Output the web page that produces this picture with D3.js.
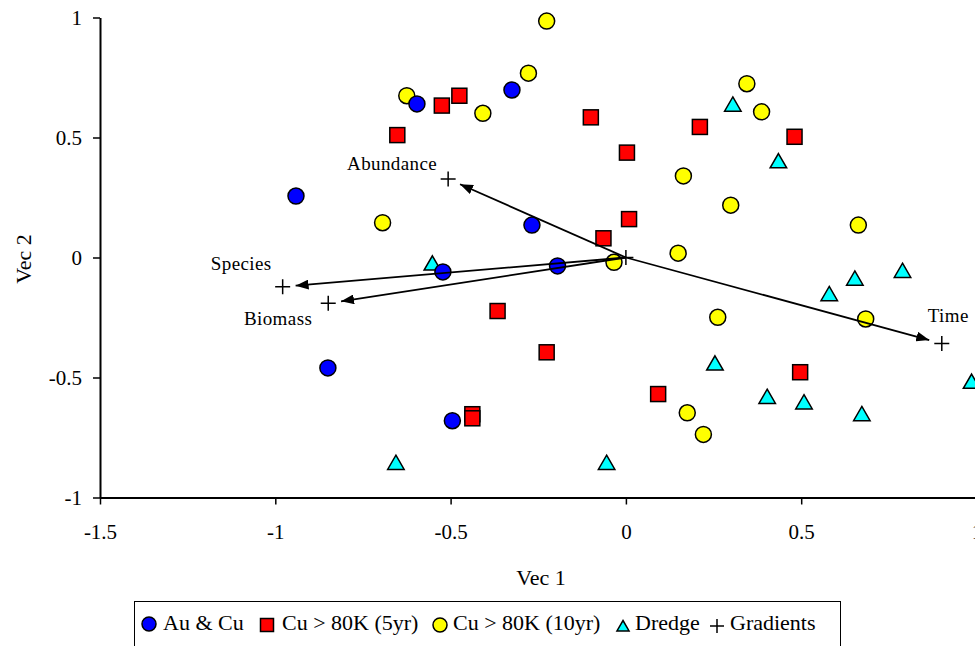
<!DOCTYPE html>
<html>
<head>
<meta charset="utf-8">
<script src="https://cdn.jsdelivr.net/npm/d3@7"></script>
<style>
  body { margin: 0; background: #fff; }
  svg text { font-family: "Liberation Serif", "Times New Roman", serif; fill: #000; }
</style>
</head>
<body>
<div id="chart"></div>
<script>
// Values (Vec 1, Vec 2)
const auCu = [
  [-0.941, 0.256], [-0.596, 0.640], [-0.325, 0.698], [-0.268, 0.135],
  [-0.522, -0.060], [-0.195, -0.035], [-0.850, -0.460], [-0.495, -0.680]
];
const cu5yr = [
  [-0.652, 0.510], [-0.525, 0.633], [-0.475, 0.674], [-0.100, 0.584],
  [0.003, 0.437], [0.211, 0.544], [0.481, 0.503], [0.009, 0.160],
  [-0.064, 0.080], [-0.366, -0.223], [-0.226, -0.395], [-0.438, -0.653],
  [-0.438, -0.670], [0.092, -0.569], [0.497, -0.478]
];
const cu10yr = [
  [-0.226, 0.985], [-0.278, 0.768], [-0.625, 0.674], [-0.408, 0.601],
  [0.345, 0.724], [0.387, 0.607], [0.164, 0.340], [0.299, 0.218],
  [-0.694, 0.145], [0.663, 0.135], [0.149, 0.018], [-0.034, -0.020],
  [0.262, -0.249], [0.684, -0.256], [0.175, -0.647], [0.221, -0.737]
];
const dredge = [
  [0.305, 0.638], [0.435, 0.402], [-0.552, -0.024], [0.789, -0.055],
  [0.653, -0.087], [0.580, -0.152], [0.254, -0.441], [0.403, -0.580],
  [0.508, -0.603], [0.673, -0.652], [0.986, -0.517], [-0.656, -0.855],
  [-0.055, -0.855]
];
const gradientNames = ["Abundance", "Species", "Biomass", "Time"];
const gradientX = [-0.507, -0.979, -0.849, 0.901];
const gradientY = [0.327, -0.122, -0.191, -0.358];
const gradientOrigin = [0, 0];

const legendLabels = ["Au & Cu", "Cu > 80K (5yr)", "Cu > 80K (10yr)", "Dredge", "Gradients"];
const xTicks = [-1.5, -1, -0.5, 0, 0.5, 1];
const yTicks = [-1, -0.5, 0, 0.5, 1];

// Layout
const width = 975, height = 646;
const plot = { left: 100, right: 976.5, top: 17.5, bottom: 497.5 };

const svg = d3.select("#chart").append("svg")
  .attr("width", width)
  .attr("height", height);

const x = d3.scaleLinear().domain([-1.5, 1]).range([plot.left, plot.right]);
const y = d3.scaleLinear().domain([-1, 1]).range([plot.bottom, plot.top]);

// Axes
const yAxis = d3.axisLeft(y).tickValues(yTicks).tickSize(7).tickSizeOuter(0)
  .tickPadding(11).tickFormat(d => String(d));
const xAxis = d3.axisBottom(x).tickValues(xTicks).tickSize(7).tickSizeOuter(0)
  .tickPadding(20).tickFormat(d => String(d));

const gy = svg.append("g")
  .attr("transform", `translate(${plot.left},0)`)
  .call(yAxis);
const gx = svg.append("g")
  .attr("transform", `translate(0,${plot.bottom})`)
  .call(xAxis);

[gx, gy].forEach(g => {
  g.selectAll("path.domain").attr("stroke", "#000").attr("stroke-width", 2);
  g.selectAll(".tick line").attr("stroke", "#000").attr("stroke-width", 1.5);
  g.selectAll(".tick text")
    .style("font-family", '"Liberation Serif", "Times New Roman", serif')
    .style("font-size", "21px")
    .attr("fill", "#000");
});

svg.append("text")
  .attr("x", 541)
  .attr("y", 585)
  .attr("text-anchor", "middle")
  .style("font-size", "22px")
  .text("Vec 1");

svg.append("text")
  .attr("transform", "translate(31,259) rotate(-90)")
  .attr("text-anchor", "middle")
  .style("font-size", "22px")
  .text("Vec 2");

// Marker shapes
const trianglePath = s => `M0,${-s * 0.5}L${s * 0.55},${s * 0.45}L${-s * 0.55},${s * 0.45}Z`;
const plusPath = s => `M${-s / 2},0H${s / 2}M0,${-s / 2}V${s / 2}`;

function drawCircles(data, fill, r) {
  svg.append("g").selectAll("circle").data(data).join("circle")
    .attr("cx", d => x(d[0]))
    .attr("cy", d => y(d[1]))
    .attr("r", r)
    .attr("fill", fill)
    .attr("stroke", "#000")
    .attr("stroke-width", 1.5);
}

// Dredge triangles
svg.append("g").selectAll("path").data(dredge).join("path")
  .attr("transform", d => `translate(${x(d[0])},${y(d[1])})`)
  .attr("d", trianglePath(15))
  .attr("fill", "#00ffff")
  .attr("stroke", "#000")
  .attr("stroke-width", 1.5)
  .attr("stroke-linejoin", "miter");

// Cu > 80K (10yr)
drawCircles(cu10yr, "#ffff00", 8);

// Cu > 80K (5yr)
svg.append("g").selectAll("rect").data(cu5yr).join("rect")
  .attr("x", d => x(d[0]) - 7.5)
  .attr("y", d => y(d[1]) - 7.5)
  .attr("width", 15)
  .attr("height", 15)
  .attr("fill", "#ff0000")
  .attr("stroke", "#000")
  .attr("stroke-width", 1.5);

// Au & Cu
drawCircles(auCu, "#0000ff", 8);

// Gradient vectors
svg.append("defs").append("marker")
  .attr("id", "arrow")
  .attr("markerUnits", "userSpaceOnUse")
  .attr("markerWidth", 13)
  .attr("markerHeight", 10)
  .attr("refX", 13)
  .attr("refY", 5)
  .attr("orient", "auto")
  .append("path")
  .attr("d", "M0,0L13,5L0,10Z")
  .attr("fill", "#000");

const gradients = gradientNames.map((name, i) => ({ name, gx: gradientX[i], gy: gradientY[i] }));
const arrowGap = 13;

svg.append("g").selectAll("line").data(gradients).join("line")
  .each(function(d) {
    const x0 = x(gradientOrigin[0]), y0 = y(gradientOrigin[1]);
    const x1 = x(d.gx), y1 = y(d.gy);
    const len = Math.hypot(x1 - x0, y1 - y0);
    const k = (len - arrowGap) / len;
    d3.select(this)
      .attr("x1", x0).attr("y1", y0)
      .attr("x2", x0 + (x1 - x0) * k)
      .attr("y2", y0 + (y1 - y0) * k);
  })
  .attr("stroke", "#000")
  .attr("stroke-width", 1.8)
  .attr("marker-end", "url(#arrow)");

const plusPoints = [gradientOrigin].concat(gradients.map(d => [d.gx, d.gy]));
svg.append("g").selectAll("path").data(plusPoints).join("path")
  .attr("transform", d => `translate(${x(d[0])},${y(d[1])})`)
  .attr("d", plusPath(15))
  .attr("stroke", "#000")
  .attr("stroke-width", 1.5)
  .attr("fill", "none");

// label offsets from each gradient point
const labelOffsets = {
  Abundance: { dx: -11, dy: -9, anchor: "end" },
  Species: { dx: -11, dy: -17, anchor: "end" },
  Biomass: { dx: -16, dy: 22, anchor: "end" },
  Time: { dx: -14, dy: -21, anchor: "start" }
};

svg.append("g").selectAll("text").data(gradients).join("text")
  .attr("x", d => x(d.gx) + labelOffsets[d.name].dx)
  .attr("y", d => y(d.gy) + labelOffsets[d.name].dy)
  .attr("text-anchor", d => labelOffsets[d.name].anchor)
  .style("font-size", "19px")
  .style("letter-spacing", "0.4px")
  .text(d => d.name);

// Legend
const legend = svg.append("g");
legend.append("rect")
  .attr("x", 134.5)
  .attr("y", 601.5)
  .attr("width", 706)
  .attr("height", 60)
  .attr("fill", "#fff")
  .attr("stroke", "#000")
  .attr("stroke-width", 1);

const legendMarkX = [149, 267, 440, 623, 717];
const legendTextX = [163, 282, 453, 635, 730];
const legendY = 624;

legend.append("circle").attr("cx", legendMarkX[0]).attr("cy", legendY).attr("r", 7)
  .attr("fill", "#0000ff").attr("stroke", "#000").attr("stroke-width", 1.5);
legend.append("rect").attr("x", legendMarkX[1] - 6.5).attr("y", legendY - 5.5)
  .attr("width", 13).attr("height", 13)
  .attr("fill", "#ff0000").attr("stroke", "#000").attr("stroke-width", 1.5);
legend.append("circle").attr("cx", legendMarkX[2]).attr("cy", legendY + 1).attr("r", 7)
  .attr("fill", "#ffff00").attr("stroke", "#000").attr("stroke-width", 1.5);
legend.append("path").attr("transform", `translate(${legendMarkX[3]},${legendY + 2})`)
  .attr("d", trianglePath(11))
  .attr("fill", "#00ffff").attr("stroke", "#000").attr("stroke-width", 1.5);
legend.append("path").attr("transform", `translate(${legendMarkX[4]},${legendY + 2})`)
  .attr("d", plusPath(14))
  .attr("stroke", "#000").attr("stroke-width", 1.5).attr("fill", "none");

legend.selectAll("text.lbl").data(legendLabels).join("text")
  .attr("class", "lbl")
  .attr("x", (d, i) => legendTextX[i])
  .attr("y", 630)
  .style("font-size", "22px")
  .text(d => d);
</script>
</body>
</html>
